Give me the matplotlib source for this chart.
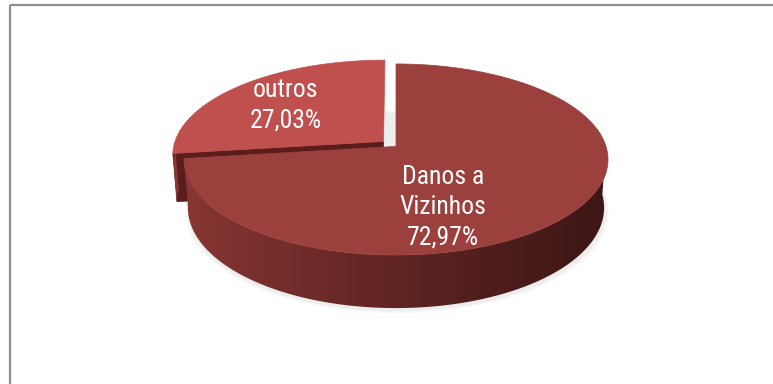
import numpy as np
import matplotlib.pyplot as plt
import matplotlib.font_manager as fm
from matplotlib.colors import to_rgb
from matplotlib.patches import Polygon

# Dados do gráfico
categorias = ['Danos a\nVizinhos', 'outros']
valores = [72.97, 27.03]
cores_topo = ['#9B403D', '#C0504D']
destaque = [0.0, 0.08]

# Parâmetros da projeção 3D (perspectiva)
phi = np.radians(27)
dist = 6.5
esc_x, esc_y = 210.0, 206.5
cx, cy = 396.0, 146.4
altura = 0.265


def proj(x, y, z):
    sy = y * np.cos(phi) - z * np.sin(phi)
    prof = y * np.sin(phi) + z * np.cos(phi)
    k = dist / (dist - prof)
    return cx + esc_x * x * k, cy - esc_y * sy * k


# Fonte estreita, parecida com a do Excel, se houver
fontes = fm.fontManager.ttflist
nomes = {f.name for f in fontes}
estilo_fonte = dict(family=['Lato', 'DejaVu Sans'], fontsize=17)
for nome in ['Liberation Sans Narrow', 'Roboto Condensed', 'Open Sans Condensed', 'Noto Sans Condensed']:
    if nome in nomes:
        estilo_fonte = dict(family=[nome, 'DejaVu Sans'], fontsize=18.5)
        break

fig = plt.figure(figsize=(7.73, 3.84), dpi=100)
ax = fig.add_axes([0, 0, 1, 1])
ax.set_xlim(0, 773)
ax.set_ylim(384, 0)
ax.axis('off')

# Moldura do gráfico
ax.plot([10, 10], [384, 5], color='#8F8F8F', lw=1.6, solid_capstyle='butt')
ax.plot([10, 773], [5, 5], color='#8F8F8F', lw=1.6, solid_capstyle='butt')

# Ângulos das fatias: começa às 12h e segue no sentido horário
total = sum(valores)
fatias = []
inicio = 90.0
for i, v in enumerate(valores):
    fim = inicio - v / total * 360.0
    meio = np.radians((inicio + fim) / 2)
    ox, oz = destaque[i] * np.cos(meio), -destaque[i] * np.sin(meio)
    fatias.append((inicio, fim, ox, oz))
    inicio = fim

# Sombra suave sob a pizza
t = np.linspace(0, 2 * np.pi, 200)
for j in range(3):
    sx, sy = proj(np.cos(t) * (1.0 + 0.006 * (3 - j)), -altura, -np.sin(t))
    ax.fill(sx + 1, sy + 2 + (3 - j), color='#000000', alpha=0.022, lw=0, zorder=1)

# Degradê horizontal da lateral (claro à esquerda, escuro à direita)
esq, dir_ = np.array(to_rgb('#8A3734')), np.array(to_rgb('#3C1615'))
s = np.linspace(0, 1, 256) ** 0.9
degrade = (esq + (dir_ - esq) * s[:, None])[None, :, :]
x_min, _ = proj(-1.0, 0, 0)
x_max, _ = proj(1.0, 0, 0)


def desenha_fatia(inicio, fim, ox, oz, cor, z0):
    a1, a2 = np.radians(fim), np.radians(inicio)
    # face de corte voltada para a frente
    xr, zr = ox + np.cos(a2), oz - np.sin(a2)
    px, py = zip(proj(ox, 0, oz), proj(xr, 0, zr), proj(xr, -altura, zr), proj(ox, -altura, oz))
    ax.fill(px, py, color='#5A1D1B', lw=0.5, edgecolor='#5A1D1B', zorder=z0)
    # lateral externa visível (metade da frente)
    th = np.linspace(a1, a2, 400)
    th = th[np.sin(th) < 0]
    if len(th) > 1:
        xs, zs = ox + np.cos(th), oz - np.sin(th)
        ux, uy = proj(xs, np.zeros_like(xs), zs)
        bx, by = proj(xs, np.full_like(xs, -altura), zs)
        lado = Polygon(np.c_[np.r_[ux, bx[::-1]], np.r_[uy, by[::-1]]], closed=True,
                       facecolor='none', edgecolor='none')
        ax.add_patch(lado)
        im = ax.imshow(degrade, extent=(x_min - 12, x_max, 320, 100), aspect='auto',
                       interpolation='bilinear', zorder=z0 + 0.1)
        im.set_clip_path(lado)
    # face superior
    th = np.linspace(a1, a2, 300)
    tx, ty = proj(ox + np.cos(th), np.zeros_like(th), oz - np.sin(th))
    vx, vy = proj(ox, 0, oz)
    ax.fill(np.r_[vx, tx], np.r_[vy, ty], color=cor, lw=0.5, edgecolor=cor, zorder=z0 + 0.2)


# fatia destacada ("outros") fica atrás
desenha_fatia(*fatias[1], cores_topo[1], 2)
desenha_fatia(*fatias[0], cores_topo[0], 3)
ax.set_xlim(0, 773)
ax.set_ylim(384, 0)

# Rótulos de dados
rot = [f'{categorias[i]}\n{valores[i]:.2f}'.replace('.', ',') + '%' for i in range(2)]
ax.text(443, 207, rot[0], ha='center', va='center', color='white',
        linespacing=1.32, zorder=5, **estilo_fonte)
ax.text(286, 105, rot[1], ha='center', va='center', color='white',
        linespacing=1.32, zorder=5, **estilo_fonte)

fig.savefig('out.png', dpi=100, facecolor='white')
